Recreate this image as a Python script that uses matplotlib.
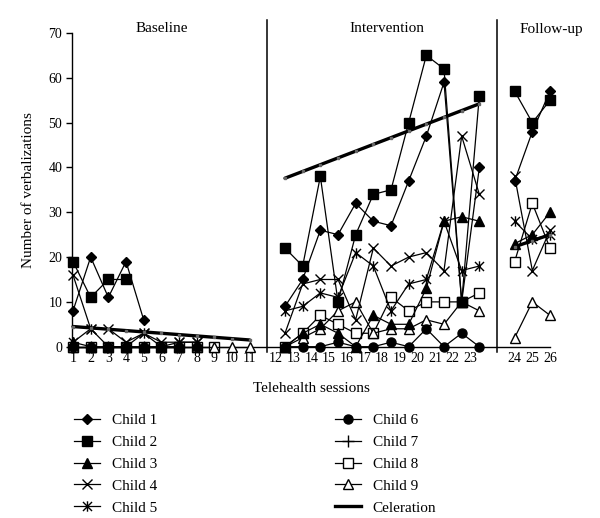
import numpy as np
import matplotlib
matplotlib.use("Agg")
import matplotlib.pyplot as plt
from matplotlib.path import Path
from matplotlib.lines import Line2D

plt.rcParams['font.family'] = ['Liberation Serif', 'DejaVu Serif']

# ---------------- data ----------------
children = ["Child 1", "Child 2", "Child 3", "Child 4", "Child 5",
            "Child 6", "Child 7", "Child 8", "Child 9"]

baseline_sessions = list(range(1, 12))
intervention_sessions = list(range(12, 24))
followup_sessions = [24, 25, 26]

baseline = {
    "Child 1": [8, 20, 11, 19, 6],
    "Child 2": [19, 11, 15, 15],
    "Child 3": [1, 0, 0, 0, 0, 0, 0],
    "Child 4": [16, 4, 4, 1, 3, 1, 1, 1],
    "Child 5": [1, 4, 0, 0, 3, 0, 1, 1],
    "Child 6": [0, 0, 0, 0, 0, 0, 0, 0],
    "Child 7": [0, 0, 0, 0, 0, 0, 0],
    "Child 8": [0, 0, 0, 0, 0, 0, 0, 0, 0],
    "Child 9": [0, 0, 0, 0, 0, 0, 0, 0, 0, 0, 0],
}
intervention = {
    "Child 1": [9, 15, 26, 25, 32, 28, 27, 37, 47, 59, 10, 40],
    "Child 2": [22, 18, 38, 10, 25, 34, 35, 50, 65, 62, 10, 56],
    "Child 3": [0, 3, 5, 3, 0, 7, 5, 5, 13, 28, 29, 28],
    "Child 4": [3, 14, 15, 15, 6, 22, 18, 20, 21, 17, 47, 34],
    "Child 5": [8, 9, 12, 11, 21, 18, 8, 14, 15, 28, 17, 18],
    "Child 6": [0, 0, 0, 1, 0, 0, 1, 0, 4, 0, 3, 0],
    "Child 7": [],
    "Child 8": [0, 3, 7, 5, 3, 3, 11, 8, 10, 10, 10, 12],
    "Child 9": [0, 2, 4, 8, 10, 3, 4, 4, 6, 5, 10, 8],
}
followup = {
    "Child 1": [37, 48, 57],
    "Child 2": [57, 50, 55],
    "Child 3": [23, 25, 30],
    "Child 4": [38, 17, 26],
    "Child 5": [28, 24, 25],
    "Child 6": [],
    "Child 7": [],
    "Child 8": [19, 32, 22],
    "Child 9": [2, 10, 7],
}

celeration_baseline = ([1, 11], [4.5, 1.5])
celeration_intervention = ([12, 23], [37.6, 54.2])
celeration_followup = ([24, 26], [22.3, 25.0])

y_ticks = [0, 10, 20, 30, 40, 50, 60, 70]
phase_titles = ["Baseline", "Intervention", "Follow-up"]

# ---------------- styles ----------------
ast = Path([(-1, -1), (1, 1), (-1, 1), (1, -1), (0, -1.15), (0, 1.15)],
           [Path.MOVETO, Path.LINETO, Path.MOVETO, Path.LINETO, Path.MOVETO, Path.LINETO])
styles = {
    "Child 1": dict(marker='D', ms=5.2, mfc='black'),
    "Child 2": dict(marker='s', ms=6.8, mfc='black'),
    "Child 3": dict(marker='^', ms=7, mfc='black'),
    "Child 4": dict(marker='x', ms=6.5, mfc='black'),
    "Child 5": dict(marker=ast, ms=7.5, mfc='none'),
    "Child 6": dict(marker='o', ms=6.5, mfc='black'),
    "Child 7": dict(marker='+', ms=8, mfc='black'),
    "Child 8": dict(marker='s', ms=6.5, mfc='white'),
    "Child 9": dict(marker='^', ms=7, mfc='white'),
}

def pos(sessions, phase):
    offset = {0: 0, 1: 1, 2: 2}[phase]
    return [s + offset for s in sessions]

fig = plt.figure(figsize=(6.0, 5.18), dpi=100)
ax = fig.add_axes([72 / 600, 1 - 346.7 / 518, 478 / 600, (346.7 - 33) / 518])

order = ["Child 8", "Child 9", "Child 7", "Child 6", "Child 3", "Child 4", "Child 5", "Child 1", "Child 2"]
for name in order:
    st = styles[name]
    for phase, data, sess in ((0, baseline, baseline_sessions),
                              (1, intervention, intervention_sessions),
                              (2, followup, followup_sessions)):
        vals = data[name]
        if not vals:
            continue
        xs = pos(sess[:len(vals)], phase)
        ax.plot(xs, vals, color='black', lw=0.9, marker=st['marker'], ms=st['ms'],
                mfc=st['mfc'], mec='black', mew=1.0, clip_on=False, zorder=3)

for phase, (cs, cv) in enumerate((celeration_baseline, celeration_intervention, celeration_followup)):
    sess = list(range(cs[0], cs[1] + 1))
    vals = list(np.linspace(cv[0], cv[1], len(sess)))
    ax.plot(pos(sess, phase), vals, color='black', lw=2.4, marker='s', ms=1.5,
            mfc='#666666', mec='#666666', clip_on=False, zorder=4, solid_capstyle='round')

# phase change lines
for p in (12, 25):
    ax.plot([p, p], [-1.2, 73], color='black', lw=1.1, clip_on=False, zorder=2)

ax.set_xlim(0.943, 28)
ax.set_ylim(0, 70)
ax.spines['top'].set_visible(False)
ax.spines['right'].set_visible(False)
ax.spines['left'].set_linewidth(1.0)
ax.spines['bottom'].set_linewidth(1.0)

ax.set_yticks(y_ticks)
ax.set_yticklabels([str(v) for v in y_ticks], fontsize=10)
ax.tick_params(axis='y', direction='out', length=4, width=1, pad=3)

xt = pos(baseline_sessions, 0) + [s + 0.5 for s in intervention_sessions] + pos(followup_sessions, 2)
xl = [str(s) for s in baseline_sessions + intervention_sessions + followup_sessions]
ax.set_xticks(xt)
ax.set_xticklabels(xl, fontsize=10)
ax.tick_params(axis='x', which='major', length=0, pad=4)
ax.set_xticks(pos(followup_sessions, 2), minor=True)
ax.tick_params(axis='x', which='minor', length=4, width=1, direction='out')

ax.set_ylabel("Number of verbalizations", fontsize=11, labelpad=10)
ax.set_xlabel("Telehealth sessions", fontsize=11, labelpad=12)

ax.text(6, 70.9, phase_titles[0], ha='center', va='center', fontsize=11)
ax.text(18.75, 70.9, phase_titles[1], ha='center', va='center', fontsize=11)
ax.text(28.1, 70.7, phase_titles[2], ha='center', va='center', fontsize=11)

# legend
def handle(name):
    st = styles[name]
    return Line2D([], [], color='black', lw=0.9, marker=st['marker'], ms=st['ms'],
                  mfc=st['mfc'], mec='black', mew=1.0)

cel_handle = Line2D([], [], color='black', lw=2.4)
h1 = [handle(n) for n in children[:5]]
h2 = [handle(n) for n in children[5:]] + [cel_handle]
l1 = children[:5]
l2 = children[5:] + ["Celeration"]
kw = dict(frameon=False, fontsize=11, handlelength=1.75, handletextpad=0.75,
          labelspacing=0.53, borderpad=0, loc='upper left')
leg1 = fig.legend(h1, l1, bbox_to_anchor=(66 / 600, 1 - 406 / 518), **kw)
leg2 = fig.legend(h2, l2, bbox_to_anchor=(327 / 600, 1 - 406 / 518), **kw)

fig.savefig("out.png", dpi=100)
